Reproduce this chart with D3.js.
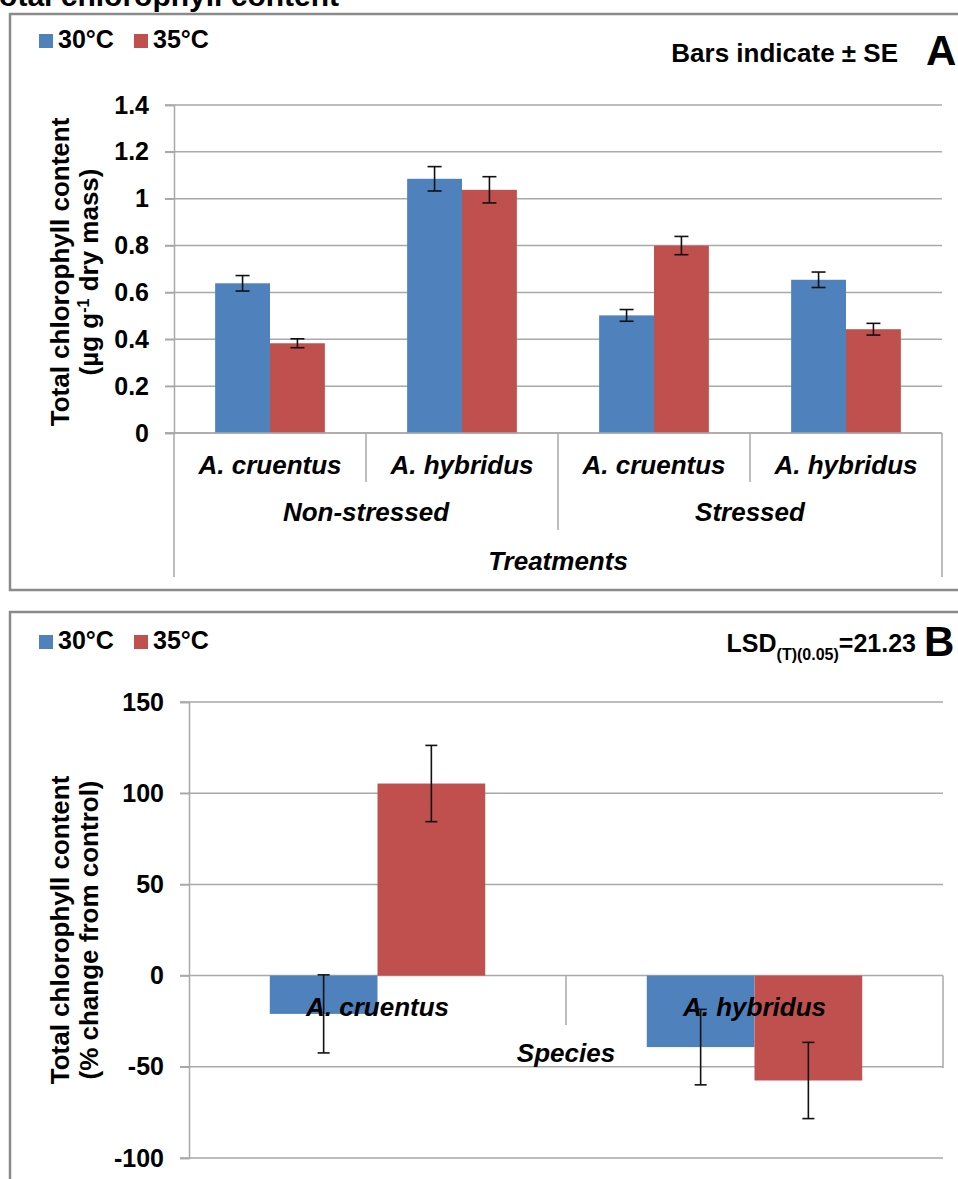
<!DOCTYPE html>
<html>
<head>
<meta charset="utf-8">
<script src="https://cdn.jsdelivr.net/npm/d3@7"></script>
<style>
  body { margin: 0; background: #fff; }
  text { font-family: "Liberation Sans", Arial, sans-serif; font-weight: bold; fill: #000; }
</style>
</head>
<body>
<div id="chart"></div>
<script>
// series
var seriesNames = ["30°C", "35°C"];
var seriesColors = ["#4f81bd", "#c0504d"];

// panel A: absolute content
var treatmentGroups = ["Non-stressed", "Stressed"];
var speciesA = ["A. cruentus", "A. hybridus", "A. cruentus", "A. hybridus"];
var valuesA30 = [0.639, 1.085, 0.502, 0.654];
var valuesA35 = [0.383, 1.038, 0.800, 0.443];
var seA30 = [0.033, 0.052, 0.025, 0.033];
var seA35 = [0.019, 0.056, 0.039, 0.025];
var ticksA = [0, 0.2, 0.4, 0.6, 0.8, 1, 1.2, 1.4];

// panel B: % change from control
var speciesB = ["A. cruentus", "A. hybridus"];
var valuesB30 = [-21, -39.2];
var valuesB35 = [105.3, -57.5];
var errB30 = [21.4, 20.7];
var errB35 = [20.9, 20.9];
var ticksB = [-100, -50, 0, 50, 100, 150];

var W = 958, H = 1179;
var gridColor = "#a9a9a9";
var borderColor = "#8a8a8a";

var svg = d3.select("#chart").append("svg")
  .attr("width", W)
  .attr("height", H);

// cut-off figure title at the very top
svg.append("text")
  .attr("x", -17)
  .attr("y", 6)
  .style("font-size", "30px")
  .text("Total chlorophyll content");

// panel frames
svg.append("rect")
  .attr("x", 10).attr("y", 14)
  .attr("width", 970).attr("height", 576)
  .attr("fill", "none")
  .attr("stroke", borderColor)
  .attr("stroke-width", 2.5);

svg.append("rect")
  .attr("x", 10).attr("y", 612)
  .attr("width", 970).attr("height", 600)
  .attr("fill", "none")
  .attr("stroke", borderColor)
  .attr("stroke-width", 2.5);

function legend(y) {
  var g = svg.append("g").attr("transform", `translate(39, ${y})`);
  seriesNames.forEach(function(name, i) {
    var x = i * 95;
    g.append("rect")
      .attr("x", x).attr("y", -14)
      .attr("width", 14).attr("height", 14)
      .attr("fill", seriesColors[i]);
    g.append("text")
      .attr("x", x + 19).attr("y", 0)
      .style("font-size", "25px")
      .text(name);
  });
}

function yAxis(scale, ticks, x0, x1) {
  // gridlines
  svg.append("g")
    .selectAll("line")
    .data(ticks)
    .enter()
    .append("line")
    .attr("x1", x0 - 9)
    .attr("x2", x1)
    .attr("y1", d => scale(d))
    .attr("y2", d => scale(d))
    .attr("stroke", gridColor)
    .attr("stroke-width", 1.5);

  var ax = svg.append("g")
    .attr("transform", `translate(${x0}, 0)`)
    .call(d3.axisLeft(scale).tickValues(ticks).tickSize(9).tickPadding(16).tickFormat(d => String(d)));
  ax.selectAll("path, line").attr("stroke", gridColor).attr("stroke-width", 1.5);
  ax.selectAll("text")
    .style("font-size", "25px")
    .style("font-family", '"Liberation Sans", Arial, sans-serif')
    .style("font-weight", "bold")
    .attr("fill", "#000");
}

function errorBars(data, cap) {
  var g = svg.append("g");
  data.forEach(function(d) {
    g.append("line")
      .attr("x1", d.x).attr("x2", d.x)
      .attr("y1", d.y1).attr("y2", d.y2)
      .attr("stroke", "#111").attr("stroke-width", 1.6);
    [d.y1, d.y2].forEach(function(y) {
      g.append("line")
        .attr("x1", d.x - cap / 2).attr("x2", d.x + cap / 2)
        .attr("y1", y).attr("y2", y)
        .attr("stroke", "#111").attr("stroke-width", 1.6);
    });
  });
}

function vline(x, y1, y2) {
  svg.append("line")
    .attr("x1", x).attr("x2", x)
    .attr("y1", y1).attr("y2", y2)
    .attr("stroke", gridColor)
    .attr("stroke-width", 1.5);
}

// ================= Panel A =================
legend(48);

svg.append("text")
  .attr("x", 898).attr("y", 62)
  .attr("text-anchor", "end")
  .style("font-size", "26px")
  .text("Bars indicate ± SE");

svg.append("text")
  .attr("x", 926).attr("y", 65)
  .style("font-size", "42px")
  .text("A");

var xA = d3.scaleBand().domain(d3.range(speciesA.length)).range([174, 942]);
var yA = d3.scaleLinear().domain([0, 1.4]).range([433, 105]);
var barWA = xA.bandwidth() / 3.5;
var subA = d3.scaleBand().domain([0, 1]).range([-barWA, barWA]);

yAxis(yA, ticksA, 174, 942);

var dataA = [valuesA30, valuesA35].map(function(vals, s) {
  return vals.map(function(v, i) {
    return { s: s, i: i, v: v, e: (s === 0 ? seA30 : seA35)[i] };
  });
});

dataA.forEach(function(series, s) {
  svg.append("g").selectAll("rect")
    .data(series)
    .enter()
    .append("rect")
    .attr("x", d => xA(d.i) + xA.bandwidth() / 2 + subA(d.s))
    .attr("y", d => yA(d.v))
    .attr("width", subA.bandwidth())
    .attr("height", d => yA(0) - yA(d.v))
    .attr("fill", seriesColors[s]);
});

errorBars(d3.merge(dataA).map(function(d) {
  return {
    x: xA(d.i) + xA.bandwidth() / 2 + subA(d.s) + subA.bandwidth() / 2,
    y1: yA(d.v + d.e),
    y2: yA(d.v - d.e)
  };
}), 14);

// x axis A
svg.append("line")
  .attr("x1", 165).attr("x2", 942)
  .attr("y1", yA(0)).attr("y2", yA(0))
  .attr("stroke", gridColor).attr("stroke-width", 1.5);

vline(174, 433, 577);
vline(942, 433, 577);
vline(xA(2), 433, 530);
vline(xA(1), 433, 482);
vline(xA(3), 433, 482);

svg.append("g").selectAll("text")
  .data(speciesA)
  .enter()
  .append("text")
  .attr("x", (d, i) => xA(i) + xA.bandwidth() / 2)
  .attr("y", 474)
  .attr("text-anchor", "middle")
  .style("font-size", "26px")
  .style("font-style", "italic")
  .text(d => d);

svg.append("g").selectAll("text")
  .data(treatmentGroups)
  .enter()
  .append("text")
  .attr("x", (d, i) => (xA(i * 2) + xA(i * 2 + 1) + xA.bandwidth()) / 2)
  .attr("y", 521)
  .attr("text-anchor", "middle")
  .style("font-size", "26px")
  .style("font-style", "italic")
  .text(d => d);

svg.append("text")
  .attr("x", 558).attr("y", 570)
  .attr("text-anchor", "middle")
  .style("font-size", "26px")
  .style("font-style", "italic")
  .text("Treatments");

var labA = svg.append("text")
  .attr("transform", "translate(0, 272) rotate(-90)")
  .attr("text-anchor", "middle")
  .style("font-size", "26px");
labA.append("tspan").attr("x", 0).attr("y", 69).text("Total chlorophyll content");
var l2 = labA.append("tspan").attr("x", 0).attr("y", 98);
l2.append("tspan").text("(µg g");
l2.append("tspan").attr("dy", -9).style("font-size", "16px").text("-1");
l2.append("tspan").attr("dy", 9).text(" dry mass)");

// ================= Panel B =================
legend(649);

var lsd = svg.append("text")
  .attr("x", 916).attr("y", 652)
  .attr("text-anchor", "end")
  .style("font-size", "25px");
lsd.append("tspan").text("LSD");
lsd.append("tspan").attr("dy", 8).style("font-size", "16px").text("(T)(0.05)");
lsd.append("tspan").attr("dy", -8).text("=21.23");

svg.append("text")
  .attr("x", 924).attr("y", 656)
  .style("font-size", "42px")
  .text("B");

var xB = d3.scaleBand().domain(d3.range(speciesB.length)).range([189, 943]);
var yB = d3.scaleLinear().domain([-100, 150]).range([1158, 702]);
var barWB = xB.bandwidth() / 3.5;
var subB = d3.scaleBand().domain([0, 1]).range([-barWB, barWB]);

yAxis(yB, ticksB, 189, 943);

var dataB = [valuesB30, valuesB35].map(function(vals, s) {
  return vals.map(function(v, i) {
    return { s: s, i: i, v: v, e: (s === 0 ? errB30 : errB35)[i] };
  });
});

dataB.forEach(function(series, s) {
  svg.append("g").selectAll("rect")
    .data(series)
    .enter()
    .append("rect")
    .attr("x", d => xB(d.i) + xB.bandwidth() / 2 + subB(d.s))
    .attr("y", d => Math.min(yB(d.v), yB(0)))
    .attr("width", subB.bandwidth())
    .attr("height", d => Math.abs(yB(0) - yB(d.v)))
    .attr("fill", seriesColors[s]);
});

vline(xB(1), yB(0), 1025);
vline(943, yB(0), 1068);

svg.append("g").selectAll("text")
  .data(speciesB)
  .enter()
  .append("text")
  .attr("x", (d, i) => xB(i) + xB.bandwidth() / 2)
  .attr("y", 1016)
  .attr("text-anchor", "middle")
  .style("font-size", "26px")
  .style("font-style", "italic")
  .text(d => d);

svg.append("text")
  .attr("x", xB(1)).attr("y", 1062)
  .attr("text-anchor", "middle")
  .style("font-size", "26px")
  .style("font-style", "italic")
  .text("Species");

errorBars(d3.merge(dataB).map(function(d) {
  return {
    x: xB(d.i) + xB.bandwidth() / 2 + subB(d.s) + subB.bandwidth() / 2,
    y1: yB(d.v + d.e),
    y2: yB(d.v - d.e)
  };
}), 12);

var labB = svg.append("text")
  .attr("transform", "translate(0, 930) rotate(-90)")
  .attr("text-anchor", "middle")
  .style("font-size", "26px");
labB.append("tspan").attr("x", 0).attr("y", 69).text("Total chlorophyll content");
labB.append("tspan").attr("x", 0).attr("y", 98).text("(% change from control)");
</script>
</body>
</html>
